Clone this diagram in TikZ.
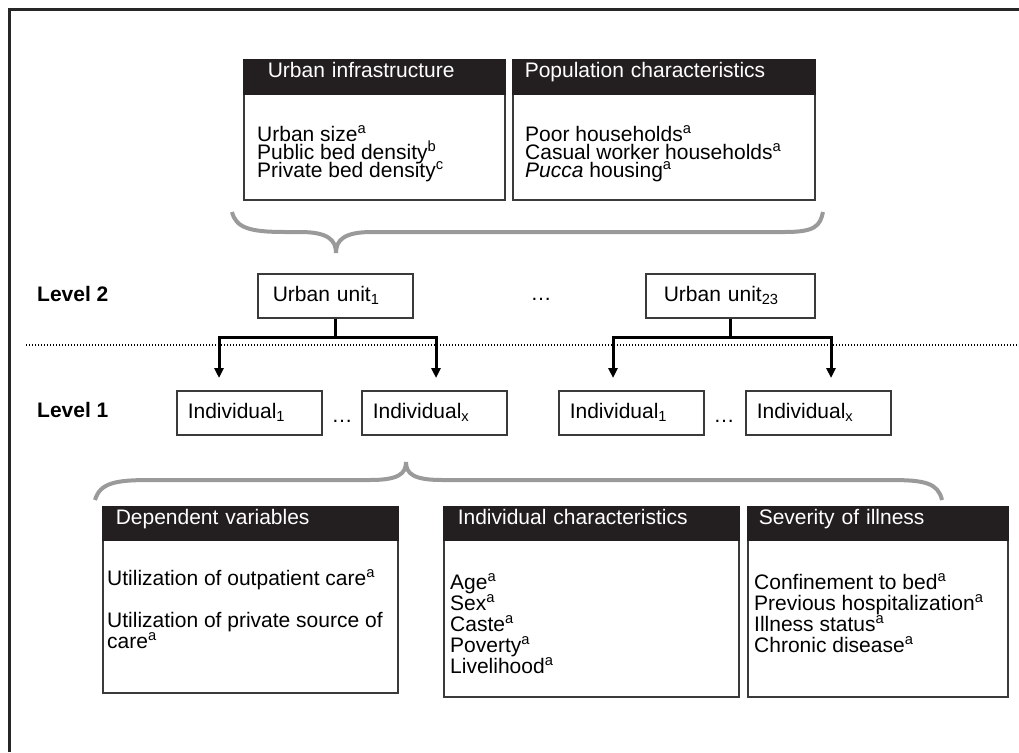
\documentclass[tikz,border=0pt]{standalone}
\usepackage{fontspec}
\setmainfont{Liberation Sans}
\usetikzlibrary{arrows.meta}
\definecolor{boxgray}{HTML}{3A3A3A}
\definecolor{headblack}{HTML}{231F20}
\definecolor{bracegray}{HTML}{9A9A9A}
\definecolor{framegray}{HTML}{262626}
\newcommand{\bodyfont}[1]{\fontsize{21}{#1}\selectfont\lineskiplimit=-50pt}
\tikzset{
  cardbox/.style={draw=boxgray, line width=1.5pt, anchor=north west, inner sep=0pt},
  cardhead/.style={fill=headblack, draw=headblack, line width=1.5pt, text=white, anchor=north west,
    align=left, inner ysep=0pt, text height=18pt},
  bodytext/.style={anchor=base west, inner sep=0pt, align=left},
  unitbox/.style={draw=boxgray, line width=1.5pt, anchor=north west, align=left,
    inner ysep=0pt, minimum height=44pt},
  levellabel/.style={font={\bodyfont{21}\bfseries}, anchor=base west, inner sep=0pt},
  curly/.style={draw=bracegray, line width=4pt},
  fork/.style={line width=3pt, {Triangle[length=10pt,width=9pt]}-{Triangle[length=10pt,width=9pt]}},
  stem/.style={line width=3pt},
  levelsep/.style={line width=1.3pt, dash pattern=on 1.3pt off 1.7pt}
}
\begin{document}
\begin{tikzpicture}[x=1pt, y=-1pt, font={\bodyfont{21}}]
\useasboundingbox (0,0) rectangle (1019,752);
\draw[line width=3pt, framegray] (9,752) |- (1019,10);

% level 2 variables (base of a list = its last line)
\node[cardbox, minimum width=261pt, minimum height=140pt] (infra) at (243,59) {};
\node[cardhead, text width=213pt, inner xsep=24pt, text depth=16pt] (infrahead) at (243,59) {Urban infrastructure};
\node[bodytext, font={\bodyfont{18}}] (infralist) at (257,177)
  {Urban size\textsuperscript{a}\\ Public bed density\textsuperscript{b}\\ Private bed density\textsuperscript{c}};
\node[cardbox, minimum width=302pt, minimum height=140pt] (pop) at (512,59) {};
\node[cardhead, text width=278pt, inner xsep=12pt, text depth=16pt] (pophead) at (512,59) {Population characteristics};
\node[bodytext, font={\bodyfont{18}}] (poplist) at (525,177)
  {Poor households\textsuperscript{a}\\ Casual worker households\textsuperscript{a}\\ \textit{Pucca} housing\textsuperscript{a}};
\draw[curly] (232,212) .. controls (236,228) and (250,232) .. (285,232) -- (300,232)
  .. controls (328,232) and (336,240) .. (336,253) .. controls (336,240) and (344,232) .. (372,232)
  -- (785,232) .. controls (815,232) and (820,226) .. (823,212);

% levels
\node[levellabel] (lvltwo) at (37,301) {Level 2};
\node[levellabel] (lvlone) at (37,417) {Level 1};
\draw[levelsep] (26,345) -- (1019,345);

\node[unitbox, text width=125pt, inner xsep=15pt] (unitA) at (257,273) {Urban unit\textsubscript{1}};
\node[anchor=base, inner sep=0pt] (unitdots) at (541,300) {\ldots};
\node[unitbox, text width=133pt, inner xsep=18pt] (unitB) at (645,273) {Urban unit\textsubscript{23}};

\node[unitbox, text width=123pt, inner xsep=11pt] (indA1) at (176,390) {Individual\textsubscript{1}};
\node[anchor=base, inner sep=0pt] (dotsA) at (342,422) {\ldots};
\node[unitbox, text width=123pt, inner xsep=11pt] (indAx) at (361,390) {Individual\textsubscript{x}};
\node[unitbox, text width=123pt, inner xsep=11pt] (indB1) at (558,390) {Individual\textsubscript{1}};
\node[anchor=base, inner sep=0pt] (dotsB) at (724,422) {\ldots};
\node[unitbox, text width=123pt, inner xsep=11pt] (indBx) at (745,390) {Individual\textsubscript{x}};

\coordinate (forkA) at (unitA.south |- 0,337);
\coordinate (tipA1) at (219,378);
\coordinate (tipAx) at (436,378);
\coordinate (forkB) at (unitB.south |- 0,337);
\coordinate (tipB1) at (613,378);
\coordinate (tipBx) at (831,378);
\draw[stem] (unitA.south) -- (forkA);
\draw[fork] (tipA1) |- (forkA) -| (tipAx);
\draw[stem] (unitB.south) -- (forkB);
\draw[fork] (tipB1) |- (forkB) -| (tipBx);

% level 1 variables
\draw[curly] (95,500) .. controls (100,483) and (115,480) .. (150,480) -- (370,480)
  .. controls (398,480) and (406,474) .. (406,462) .. controls (406,474) and (414,480) .. (442,480)
  -- (890,480) .. controls (925,480) and (938,483) .. (942,500);
\node[cardbox, minimum width=295pt, minimum height=186pt] (dep) at (102,506) {};
\node[cardhead, text width=269pt, inner xsep=13pt, text depth=15pt] (dephead) at (102,506) {Dependent variables};
\node[bodytext] (deplist) at (107,648)
  {Utilization of outpatient care\textsuperscript{a}\\[21pt] Utilization of private source of\\ care\textsuperscript{a}};
\node[cardbox, minimum width=295pt, minimum height=190pt] (indiv) at (443,506) {};
\node[cardhead, text width=267pt, inner xsep=14pt, text depth=15pt] (indivhead) at (443,506) {Individual characteristics};
\node[bodytext] (indivlist) at (450,673)
  {Age\textsuperscript{a}\\ Sex\textsuperscript{a}\\ Caste\textsuperscript{a}\\ Poverty\textsuperscript{a}\\ Livelihood\textsuperscript{a}};
\node[cardbox, minimum width=260pt, minimum height=190pt] (sev) at (747,506) {};
\node[cardhead, text width=238pt, inner xsep=11pt, text depth=15pt] (sevhead) at (747,506) {Severity of illness};
\node[bodytext] (sevlist) at (754,652)
  {Confinement to bed\textsuperscript{a}\\ Previous hospitalization\textsuperscript{a}\\ Illness status\textsuperscript{a}\\ Chronic disease\textsuperscript{a}};
\end{tikzpicture}
\end{document}
